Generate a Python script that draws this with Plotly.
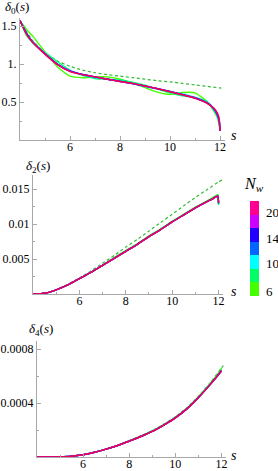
import plotly.graph_objects as go

# ---------------- data ----------------
S = [4, 4.25, 4.5, 5, 5.5, 6, 6.5, 7, 7.5, 8, 8.5, 9, 9.5, 10, 10.5, 11, 11.5, 11.75, 11.9, 11.97, 12]
S_ASYM = [4, 4.5, 5, 5.5, 6, 6.5, 7, 7.5, 8, 8.5, 9, 9.5, 10, 10.5, 11, 11.5, 12, 12.15]

NW = [6, 8, 10, 12, 14, 17, 20]
NW_COLORS = ["#44ff00", "#00ff66", "#00ffff", "#0070ff", "#2200ff", "#cc00ff", "#f0004e"]
BAR_COLORS = ["#44ff00", "#00ff66", "#00ffff", "#0066ff", "#2200ff", "#cc00ff", "#ff0090"]
NW_TICKS = ["6", "10", "14", "20"]

delta0 = {
    6:  [1.57, 1.46, 1.37, 1.16, 0.96, 0.84, 0.82, 0.83, 0.83, 0.80, 0.75, 0.69, 0.63, 0.60, 0.625, 0.62, 0.50, 0.38, 0.29, 0.20, 0.12],
    8:  [1.57, 1.38, 1.28, 1.15, 1.03, 0.92, 0.85, 0.81, 0.80, 0.79, 0.76, 0.72, 0.67, 0.62, 0.58, 0.56, 0.50, 0.41, 0.31, 0.22, 0.12],
    10: [1.57, 1.41, 1.30, 1.14, 1.0, 0.91, 0.86, 0.825, 0.80, 0.775, 0.745, 0.705, 0.67, 0.64, 0.605, 0.56, 0.49, 0.40, 0.31, 0.23, 0.12],
    12: [1.57, 1.41, 1.295, 1.135, 1.0, 0.91, 0.862, 0.828, 0.80, 0.773, 0.742, 0.707, 0.675, 0.64, 0.60, 0.556, 0.488, 0.41, 0.32, 0.24, 0.12],
    14: [1.57, 1.41, 1.29, 1.135, 0.995, 0.905, 0.862, 0.83, 0.80, 0.772, 0.742, 0.709, 0.676, 0.637, 0.597, 0.553, 0.484, 0.415, 0.33, 0.25, 0.12],
    17: [1.57, 1.40, 1.29, 1.13, 0.995, 0.905, 0.86, 0.83, 0.80, 0.77, 0.743, 0.71, 0.676, 0.636, 0.595, 0.552, 0.482, 0.418, 0.34, 0.26, 0.12],
    20: [1.57, 1.40, 1.29, 1.13, 0.99, 0.90, 0.86, 0.83, 0.80, 0.77, 0.745, 0.71, 0.675, 0.635, 0.595, 0.55, 0.48, 0.42, 0.35, 0.27, 0.12],
}
delta0_asym = [1.57, 1.31, 1.15, 1.04, 0.97, 0.92, 0.885, 0.86, 0.84, 0.82, 0.80, 0.78, 0.765, 0.745, 0.725, 0.705, 0.685, 0.68]

delta2 = {
    6:  [0, 0.00002, 0.0001, 0.0006, 0.0013, 0.0022, 0.0031, 0.0041, 0.0052, 0.0062, 0.0072, 0.0083, 0.0093, 0.0104, 0.0114, 0.0124, 0.0133, 0.0138, 0.0141, 0.0142, 0.0127],
    8:  [0, 0.00002, 0.0001, 0.0006, 0.0013, 0.0022, 0.0031, 0.0041, 0.00515, 0.00615, 0.00715, 0.00825, 0.00925, 0.01035, 0.01135, 0.01235, 0.01325, 0.0137, 0.01405, 0.0141, 0.0128],
    10: [0, 0.00002, 0.0001, 0.0006, 0.0013, 0.0022, 0.0031, 0.0041, 0.0051, 0.0061, 0.0071, 0.0082, 0.0092, 0.0103, 0.0113, 0.0123, 0.0132, 0.0136, 0.0139, 0.0140, 0.0129],
    12: [0, 0.00002, 0.0001, 0.0006, 0.0013, 0.0022, 0.0031, 0.0041, 0.0051, 0.0061, 0.0071, 0.0082, 0.0092, 0.0103, 0.0113, 0.0123, 0.0132, 0.0136, 0.0139, 0.0140, 0.0129],
    14: [0, 0.00002, 0.0001, 0.0006, 0.0013, 0.0022, 0.0031, 0.0041, 0.0051, 0.0061, 0.0071, 0.0082, 0.0092, 0.0103, 0.0113, 0.0123, 0.0132, 0.0136, 0.0139, 0.0140, 0.0130],
    17: [0, 0.00002, 0.0001, 0.0006, 0.0013, 0.0022, 0.0031, 0.0041, 0.0051, 0.0061, 0.0071, 0.0082, 0.0092, 0.0103, 0.0113, 0.0123, 0.0132, 0.0136, 0.0139, 0.0140, 0.0130],
    20: [0, 0.00002, 0.0001, 0.0006, 0.0013, 0.0022, 0.0031, 0.0041, 0.0051, 0.0061, 0.0071, 0.0082, 0.0092, 0.0103, 0.0113, 0.0123, 0.0132, 0.0136, 0.0139, 0.0140, 0.0130],
}
delta2_asym = [0, 0.0001, 0.0006, 0.0014, 0.0023, 0.0033, 0.0044, 0.0055, 0.0067, 0.0078, 0.0090, 0.0102, 0.0114, 0.0126, 0.0138, 0.0149, 0.0160, 0.0163]

delta4 = {
    6:  [0, 0, 0, 0.0000015, 0.000006, 0.000017, 0.000035, 0.000058, 0.000086, 0.00012, 0.000155, 0.000193, 0.00024, 0.000294, 0.000362, 0.000446, 0.000543, 0.000595, 0.000628, 0.000645, 0.00066],
    8:  [0, 0, 0, 0.0000015, 0.000006, 0.000017, 0.000035, 0.000058, 0.000085, 0.000119, 0.000153, 0.000191, 0.000238, 0.000292, 0.000359, 0.000443, 0.000539, 0.00059, 0.000622, 0.000638, 0.00065],
    10: [0, 0, 0, 0.0000015, 0.000006, 0.000017, 0.000035, 0.000058, 0.000085, 0.000118, 0.000152, 0.00019, 0.000237, 0.00029, 0.000357, 0.00044, 0.000535, 0.000585, 0.000617, 0.000632, 0.00064],
    12: [0, 0, 0, 0.0000015, 0.000006, 0.000017, 0.000035, 0.000058, 0.000085, 0.000118, 0.000152, 0.00019, 0.000237, 0.00029, 0.000357, 0.00044, 0.000535, 0.000585, 0.000617, 0.000632, 0.00064],
    14: [0, 0, 0, 0.0000015, 0.000006, 0.000017, 0.000035, 0.000058, 0.000085, 0.000118, 0.000152, 0.00019, 0.000237, 0.00029, 0.000357, 0.00044, 0.000535, 0.000585, 0.000617, 0.000632, 0.00064],
    17: [0, 0, 0, 0.0000015, 0.000006, 0.000017, 0.000035, 0.000058, 0.000085, 0.000118, 0.000152, 0.00019, 0.000237, 0.00029, 0.000357, 0.00044, 0.000535, 0.000585, 0.000617, 0.000632, 0.00064],
    20: [0, 0, 0, 0.0000015, 0.000006, 0.000017, 0.000035, 0.000058, 0.000085, 0.000118, 0.000152, 0.00019, 0.000237, 0.00029, 0.000357, 0.00044, 0.000535, 0.000585, 0.000617, 0.000632, 0.00064],
}
delta4_asym = [0, 0, 0.000002, 0.000007, 0.000018, 0.000036, 0.00006, 0.000088, 0.000122, 0.000157, 0.000196, 0.000244, 0.000298, 0.000366, 0.00045, 0.000548, 0.00066, 0.00069]

X_TICKS = [6, 8, 10, 12]
Y0_TICKS = [0.5, 1.0, 1.5]
Y0_LABELS = ["0.5", "1.", "1.5"]
Y2_TICKS = [0.005, 0.01, 0.015]
Y2_LABELS = ["0.005", "0.01", "0.015"]
Y4_TICKS = [0.0004, 0.0008]
Y4_LABELS = ["0.0004", "0.0008"]

# ---------------- figure ----------------
W, H = 278, 471
FONT = "Liberation Serif"
AXC = "#a8a8a8"

def px_x(p):
    return p / W

def px_y(p):
    return 1 - p / H

fig = go.Figure()

panels = [
    ("x", "y", delta0, delta0_asym),
    ("x2", "y2", delta2, delta2_asym),
    ("x3", "y3", delta4, delta4_asym),
]

for xa, ya, dat, asym in panels:
    fig.add_trace(go.Scatter(x=S_ASYM, y=asym, xaxis=xa, yaxis=ya, mode="lines",
                             line=dict(color="#33bb33", width=1.2, dash="3px,2.5px", shape="spline", smoothing=0.6),
                             showlegend=False, hoverinfo="skip"))
    for nw, col in zip(NW, NW_COLORS):
        fig.add_trace(go.Scatter(x=S, y=dat[nw], xaxis=xa, yaxis=ya, mode="lines",
                                 line=dict(color=col, width=1.4, shape="spline", smoothing=0.5),
                                 showlegend=False, hoverinfo="skip"))

# colorbar carrier (point placed outside the plotted range)
cs = []
n = len(BAR_COLORS)
for i, c in enumerate(BAR_COLORS):
    cs.append([i / n, c])
    cs.append([(i + 1) / n, c])
fig.add_trace(go.Scatter(
    x=[0], y=[-10], xaxis="x", yaxis="y", mode="markers",
    marker=dict(size=1, color=[0], colorscale=cs, cmin=-0.5, cmax=6.5, showscale=True,
                colorbar=dict(thickness=9, thicknessmode="pixels", len=95, lenmode="pixels",
                              x=px_x(250), xanchor="left", xpad=0,
                              y=px_y(248), yanchor="middle", ypad=0,
                              outlinewidth=0, showticklabels=False, ticks="")),
    showlegend=False, hoverinfo="skip"))

def xaxis_cfg(x0, x1, anchor):
    return dict(domain=[px_x(x0), px_x(x1)], range=[4, 12.2], anchor=anchor,
                showline=True, linecolor=AXC, linewidth=1, showgrid=False, zeroline=False,
                tickvals=X_TICKS, ticks="inside", ticklen=4, tickcolor=AXC,
                minor=dict(ticks="inside", ticklen=2, tickcolor=AXC, tickmode="linear", tick0=5, dtick=2),
                tickfont=dict(family=FONT, size=12, color="black"), fixedrange=True)

def yaxis_cfg(y_top, y_bot, rng, tv, tt, mtick, anchor):
    return dict(domain=[px_y(y_bot), px_y(y_top)], range=rng, anchor=anchor,
                showline=True, linecolor=AXC, linewidth=1, showgrid=False, zeroline=False,
                tickvals=tv, ticktext=tt, ticks="inside", ticklen=4, tickcolor=AXC,
                minor=dict(ticks="inside", ticklen=2, tickcolor=AXC, tickmode="linear", tick0=0, dtick=mtick),
                tickfont=dict(family=FONT, size=12, color="black"), fixedrange=True)

fig.update_layout(
    width=W, height=H, margin=dict(l=0, r=0, t=0, b=0),
    paper_bgcolor="white", plot_bgcolor="white",
    xaxis=xaxis_cfg(20, 225, "y"),
    yaxis=yaxis_cfg(18.4, 140, [0, 1.6], Y0_TICKS, Y0_LABELS, 0.25, "x"),
    xaxis2=xaxis_cfg(33, 223.2, "y2"),
    yaxis2=yaxis_cfg(175, 294, [0, 0.017], Y2_TICKS, Y2_LABELS, 0.0025, "x2"),
    xaxis3=xaxis_cfg(37, 226, "y3"),
    yaxis3=yaxis_cfg(341, 457, [0, 0.00086], Y4_TICKS, Y4_LABELS, 0.0002, "x3"),
)
try:
    fig.update_xaxes(ticklabelstandoff=-4)
except Exception:
    pass

ann = [
    (3, 8, "<i>δ</i><sub>0</sub>(<i>s</i>)", 13, "left"),
    (24, 167, "<i>δ</i><sub>2</sub>(<i>s</i>)", 13, "left"),
    (27, 329, "<i>δ</i><sub>4</sub>(<i>s</i>)", 13, "left"),
    (234, 136, "<i>s</i>", 14, "center"),
    (234, 291, "<i>s</i>", 14, "center"),
    (234, 455, "<i>s</i>", 14, "center"),
    (254, 184, "<i>N</i><sub><i>w</i></sub>", 16, "center"),
]
for x, y, t, fs, xa in ann:
    fig.add_annotation(x=px_x(x), y=px_y(y), xref="paper", yref="paper", text=t, showarrow=False,
                       xanchor=xa, yanchor="middle", font=dict(family=FONT, size=fs, color="black"))

# colorbar tick labels
for lab, yy in zip(NW_TICKS, [291, 263, 238, 212]):
    fig.add_annotation(x=px_x(264), y=px_y(yy), xref="paper", yref="paper", text=lab, showarrow=False,
                       xanchor="left", yanchor="middle", font=dict(family=FONT, size=13, color="black"))

fig.write_html("out.html", config={"displayModeBar": False, "staticPlot": True},
               post_script="document.body.style.margin='0';document.body.style.padding='0';"
                           "document.documentElement.style.overflow='hidden';")
